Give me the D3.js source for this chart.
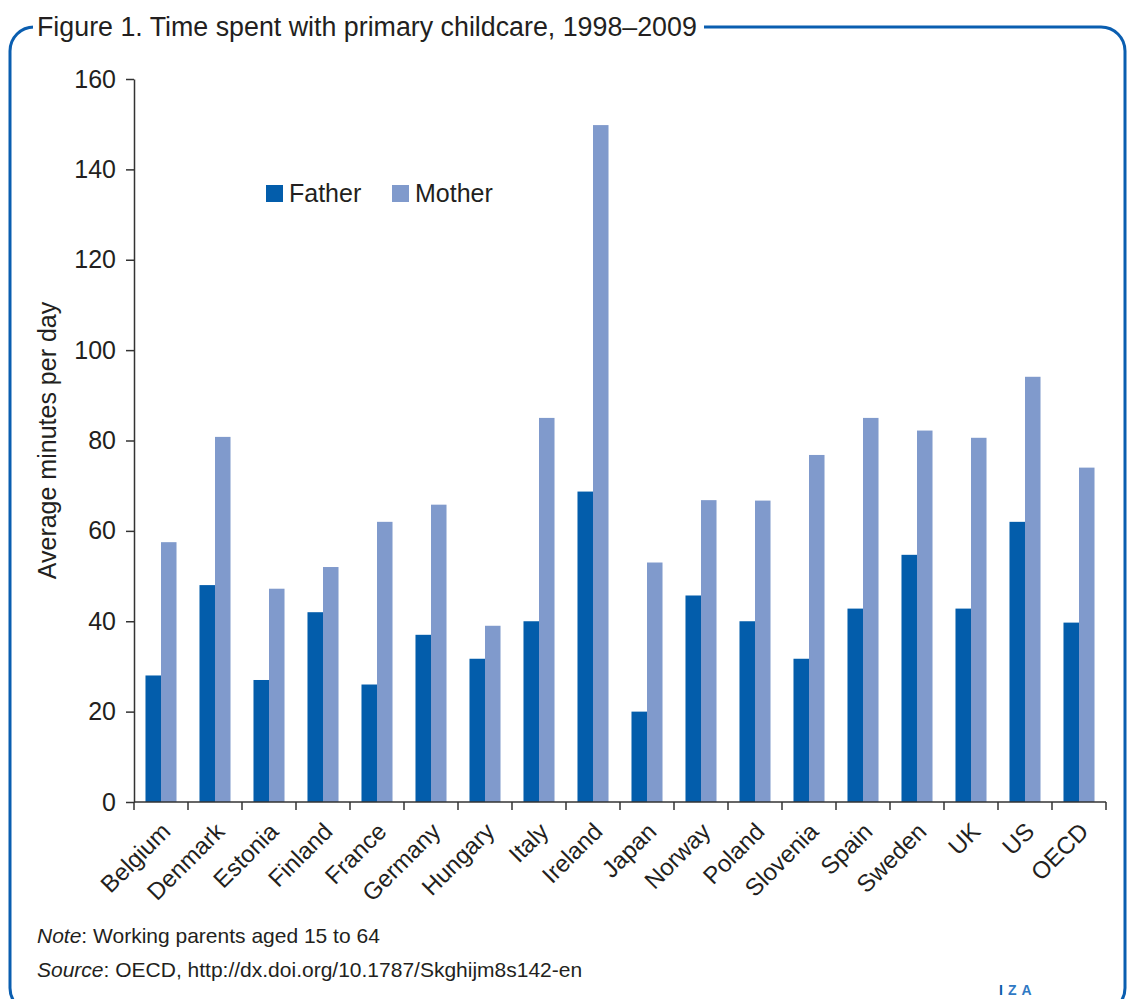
<!DOCTYPE html>
<html>
<head>
<meta charset="utf-8">
<script src="https://cdn.jsdelivr.net/npm/d3@7"></script>
<style>
  body { margin: 0; background: #fff; }
  svg { display: block; font-family: "Liberation Sans", Arial, sans-serif; }
</style>
</head>
<body>
<div id="chart"></div>
<script>
// data
const countries = ["Belgium", "Denmark", "Estonia", "Finland", "France", "Germany", "Hungary", "Italy", "Ireland",
    "Japan", "Norway", "Poland", "Slovenia", "Spain", "Sweden", "UK", "US", "OECD"];
const father = [28, 48, 27, 42, 26, 37, 31.7, 40, 68.7, 20, 45.7, 40, 31.7, 42.8, 54.7, 42.8, 62, 39.7];
const mother = [57.5, 80.8, 47.2, 52, 62, 65.8, 39, 85, 149.8, 53, 66.8, 66.7, 76.8, 85, 82.2, 80.6, 94.1, 74];
const yTicks = [0, 20, 40, 60, 80, 100, 120, 140, 160];
const seriesNames = ["Father", "Mother"];

const W = 1127, H = 999;
const plot = { left: 134, right: 1106, top: 79, bottom: 802 };
const textCol = "#231f20";
const color = d3.scaleOrdinal().domain(seriesNames).range(["#035dab", "#809acc"]);

const svg = d3.select("#chart").append("svg")
    .attr("width", W)
    .attr("height", H);

// frame
svg.append("rect")
    .attr("x", 10).attr("y", 27)
    .attr("width", 1115).attr("height", 985)
    .attr("rx", 24).attr("ry", 24)
    .attr("fill", "none")
    .attr("stroke", "#0a5eb0")
    .attr("stroke-width", 3);

// white gap behind the title
svg.append("rect")
    .attr("x", 33).attr("y", 20)
    .attr("width", 671).attr("height", 14)
    .attr("fill", "#fff");

svg.append("text")
    .attr("x", 37).attr("y", 36)
    .style("font-size", "26.8px")
    .style("fill", textCol)
    .text("Figure 1. Time spent with primary childcare, 1998\u20132009");

// scales
const x0 = d3.scaleBand()
    .domain(countries)
    .range([plot.left, plot.right])
    .padding(0);

const x1 = d3.scaleBand()
    .domain(seriesNames)
    .range([0, x0.bandwidth()])
    .paddingInner(0)
    .paddingOuter(0.74);

const y = d3.scaleLinear()
    .domain([0, 160])
    .range([plot.bottom, plot.top]);

// bars
const rows = countries.map((c, i) => ({ country: c, Father: father[i], Mother: mother[i] }));

svg.append("g")
    .selectAll("g")
    .data(rows)
    .join("g")
    .attr("transform", d => `translate(${x0(d.country)},0)`)
    .selectAll("rect")
    .data(d => seriesNames.map(k => ({ key: k, value: d[k] })))
    .join("rect")
    .attr("x", d => x1(d.key))
    .attr("width", x1.bandwidth())
    .attr("y", d => y(d.value))
    .attr("height", d => y(0) - y(d.value))
    .attr("fill", d => color(d.key));

// y axis
const yAxis = svg.append("g")
    .attr("transform", `translate(${plot.left},0)`)
    .call(d3.axisLeft(y).tickValues(yTicks).tickSize(8).tickSizeOuter(0).tickPadding(10));
yAxis.select(".domain").attr("stroke", "#333").attr("stroke-width", 1.5);
yAxis.selectAll(".tick line").attr("stroke", "#333").attr("stroke-width", 1.5);
yAxis.selectAll("text")
    .style("font-size", "25px")
    .style("font-family", "Liberation Sans, Arial, sans-serif")
    .attr("fill", textCol);

// x axis: baseline, boundary ticks and rotated labels
const xAxis = svg.append("g");
xAxis.append("line")
    .attr("x1", plot.left).attr("x2", plot.right)
    .attr("y1", y(0)).attr("y2", y(0))
    .attr("stroke", "#333").attr("stroke-width", 1.5);

const bounds = countries.map(c => x0(c)).concat([plot.right]);
xAxis.selectAll(".xtick")
    .data(bounds)
    .join("line")
    .attr("class", "xtick")
    .attr("x1", d => d).attr("x2", d => d)
    .attr("y1", y(0)).attr("y2", y(0) + 8)
    .attr("stroke", "#333").attr("stroke-width", 1.5);

xAxis.selectAll(".xlabel")
    .data(countries)
    .join("text")
    .attr("class", "xlabel")
    .attr("transform", d => `translate(${x0(d) + x0.bandwidth() / 2 + 5},${y(0) + 25}) rotate(-45)`)
    .attr("text-anchor", "end")
    .attr("dy", "0.35em")
    .style("font-size", "24px")
    .style("fill", textCol)
    .text(d => d);

// y axis title
svg.append("text")
    .attr("transform", `translate(56,${(plot.top + plot.bottom) / 2}) rotate(-90)`)
    .attr("text-anchor", "middle")
    .style("font-size", "25px")
    .style("fill", textCol)
    .text("Average minutes per day");

// legend
const legend = svg.append("g")
    .selectAll("g")
    .data(seriesNames)
    .join("g")
    .attr("transform", (d, i) => `translate(${266 + i * 126},185)`);
legend.append("rect")
    .attr("width", 17).attr("height", 17)
    .attr("fill", d => color(d));
legend.append("text")
    .attr("x", 23).attr("y", 17)
    .style("font-size", "25px")
    .style("fill", textCol)
    .text(d => d);

// notes
const note = svg.append("text")
    .attr("x", 37).attr("y", 943)
    .style("font-size", "21px")
    .style("fill", textCol);
note.append("tspan").style("font-style", "italic").text("Note");
note.append("tspan").text(": Working parents aged 15 to 64");

const source = svg.append("text")
    .attr("x", 37).attr("y", 977)
    .style("font-size", "21px")
    .style("fill", textCol);
source.append("tspan").style("font-style", "italic").text("Source");
source.append("tspan").text(": OECD, http://dx.doi.org/10.1787/Skghijm8s142-en");

// IZA mark
const iza = svg.append("text")
    .attr("x", 999).attr("y", 995)
    .style("font-size", "14px")
    .style("font-weight", "bold")
    .style("letter-spacing", "5px");
iza.append("tspan").attr("fill", "#0a5ba8").text("I");
iza.append("tspan").attr("fill", "#2f79c4").text("ZA");
</script>
</body>
</html>
